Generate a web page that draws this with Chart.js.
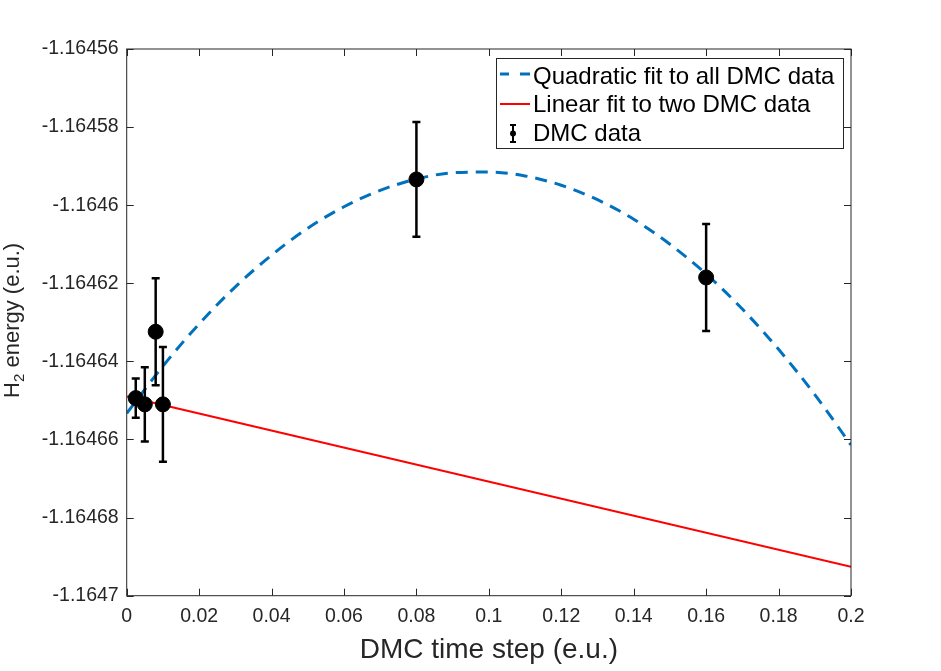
<!DOCTYPE html>
<html>
<head>
<meta charset="utf-8">
<title>H2 energy vs DMC time step</title>
<script src="https://cdn.jsdelivr.net/npm/chart.js@4.4.1/dist/chart.umd.min.js"></script>
<style>
  html, body { margin: 0; padding: 0; background: #fff; }
  #wrap { width: 941px; height: 671px; }
</style>
</head>
<body>
<div id="wrap"><canvas id="dmcChart" width="941" height="671"></canvas></div>
<script>
// DMC data: time step, energy and half-width of the error bar
const dmcSteps  = [0.0025, 0.005, 0.008, 0.01, 0.08, 0.16];
const dmcEnergy = [-1.1646494, -1.1646510, -1.1646324, -1.1646510, -1.1645934, -1.1646185];
const dmcError  = [0.0000050, 0.0000095, 0.0000137, 0.0000147, 0.0000147, 0.0000137];

// quadratic fit, every 0.01
const fitSteps = [0, 0.01, 0.02, 0.03, 0.04, 0.05, 0.06, 0.07, 0.08, 0.09, 0.10,
                  0.11, 0.12, 0.13, 0.14, 0.15, 0.16, 0.17, 0.18, 0.19, 0.20];
const quadEnergy = [-1.1646533, -1.1646412, -1.1646304, -1.1646209, -1.1646128, -1.1646059,
                    -1.1646004, -1.1645962, -1.1645933, -1.1645917, -1.1645915, -1.1645925,
                    -1.1645949, -1.1645986, -1.1646036, -1.1646100, -1.1646176, -1.1646266,
                    -1.1646369, -1.1646485, -1.1646614];

// linear fit through the two smallest time steps
const linSteps  = [0, 0.2];
const linEnergy = [-1.1646490, -1.1646926];

const xTicks = [0, 0.02, 0.04, 0.06, 0.08, 0.1, 0.12, 0.14, 0.16, 0.18, 0.2];
const yTicks = [-1.1647, -1.16468, -1.16466, -1.16464, -1.16462, -1.1646, -1.16458, -1.16456];

const FONT = '"Liberation Sans", Arial, Helvetica, sans-serif';
const INK = '#262626';
const BLUE = '#0072BD';
const RED = '#FF0000';

const toPoints = (xs, ys) => xs.map((x, i) => ({ x: x, y: ys[i] }));

// error bars, box, inward ticks, legend and axis titles in MATLAB style
const matlabLook = {
    id: 'matlabLook',
    afterDatasetsDraw(chart) {
        const { ctx, chartArea: a, scales: { x, y } } = chart;

        // error bars
        ctx.save();
        ctx.strokeStyle = '#000';
        ctx.lineWidth = 2.5;
        dmcSteps.forEach((s, i) => {
            const px = x.getPixelForValue(s);
            const top = y.getPixelForValue(dmcEnergy[i] + dmcError[i]);
            const bot = y.getPixelForValue(dmcEnergy[i] - dmcError[i]);
            ctx.beginPath();
            ctx.moveTo(px, top); ctx.lineTo(px, bot);
            ctx.moveTo(px - 4, top); ctx.lineTo(px + 4, top);
            ctx.moveTo(px - 4, bot); ctx.lineTo(px + 4, bot);
            ctx.stroke();
        });
        ctx.restore();

        // box and ticks pointing inward
        ctx.save();
        ctx.strokeStyle = INK;
        ctx.lineWidth = 1;
        ctx.strokeRect(a.left, a.top, a.right - a.left, a.bottom - a.top);
        const tl = 7;
        ctx.beginPath();
        xTicks.forEach(v => {
            const px = Math.round(x.getPixelForValue(v)) + 0.5;
            ctx.moveTo(px, a.bottom); ctx.lineTo(px, a.bottom - tl);
            ctx.moveTo(px, a.top); ctx.lineTo(px, a.top + tl);
        });
        yTicks.forEach(v => {
            const py = Math.round(y.getPixelForValue(v)) + 0.5;
            ctx.moveTo(a.left, py); ctx.lineTo(a.left + tl, py);
            ctx.moveTo(a.right, py); ctx.lineTo(a.right - tl, py);
        });
        ctx.stroke();
        ctx.restore();

        // legend
        const lx = 496, ly = 58, lw = 347, lh = 90;
        const rows = [83.5, 112, 140.5];
        ctx.save();
        ctx.fillStyle = '#fff';
        ctx.fillRect(lx, ly, lw, lh);
        ctx.strokeStyle = INK;
        ctx.lineWidth = 1;
        ctx.strokeRect(lx + 0.5, ly + 0.5, lw, lh);

        ctx.lineWidth = 3;
        ctx.strokeStyle = BLUE;
        ctx.beginPath();
        ctx.moveTo(500, 74); ctx.lineTo(509, 74);
        ctx.moveTo(520, 74); ctx.lineTo(530, 74);
        ctx.stroke();

        ctx.lineWidth = 2;
        ctx.strokeStyle = RED;
        ctx.beginPath();
        ctx.moveTo(500, 104); ctx.lineTo(530, 104);
        ctx.stroke();

        ctx.lineWidth = 2;
        ctx.strokeStyle = '#000';
        ctx.fillStyle = '#000';
        ctx.beginPath();
        ctx.moveTo(513, 125); ctx.lineTo(513, 142);
        ctx.moveTo(510, 125); ctx.lineTo(516, 125);
        ctx.moveTo(510, 142); ctx.lineTo(516, 142);
        ctx.stroke();
        ctx.beginPath();
        ctx.arc(513, 133.5, 3, 0, Math.PI * 2);
        ctx.fill();

        ctx.font = '24px ' + FONT;
        ctx.textAlign = 'left';
        ctx.textBaseline = 'alphabetic';
        chart.data.datasets.forEach((ds, i) => {
            ctx.fillText(ds.label, 533, rows[i]);
        });
        ctx.restore();

        // axis titles
        ctx.save();
        ctx.fillStyle = INK;
        ctx.font = '28px ' + FONT;
        ctx.textAlign = 'center';
        ctx.textBaseline = 'alphabetic';
        ctx.fillText('DMC time step (e.u.)', (a.left + a.right) / 2, 658);

        ctx.translate(19, (a.top + a.bottom) / 2 - 2);
        ctx.rotate(-Math.PI / 2);
        ctx.font = '22px ' + FONT;
        const h = 'H', two = '2', rest = ' energy (e.u.)';
        const wH = ctx.measureText(h).width;
        const wRest = ctx.measureText(rest).width;
        ctx.font = '15px ' + FONT;
        const w2 = ctx.measureText(two).width;
        const total = wH + w2 + wRest;
        let cx = -total / 2;
        ctx.textAlign = 'left';
        ctx.font = '22px ' + FONT;
        ctx.fillText(h, cx, 0);
        cx += wH;
        ctx.font = '15px ' + FONT;
        ctx.fillText(two, cx, 5);
        cx += w2;
        ctx.font = '22px ' + FONT;
        ctx.fillText(rest, cx, 0);
        ctx.restore();
    }
};

const ctx = document.getElementById('dmcChart').getContext('2d');
new Chart(ctx, {
    type: 'scatter',
    data: {
        datasets: [
            {
                label: 'Quadratic fit to all DMC data',
                type: 'line',
                data: toPoints(fitSteps, quadEnergy),
                borderColor: BLUE,
                borderWidth: 3,
                borderDash: [12, 8],
                pointRadius: 0,
                cubicInterpolationMode: 'monotone',
                fill: false,
                order: 3,
            },
            {
                label: 'Linear fit to two DMC data',
                type: 'line',
                data: toPoints(linSteps, linEnergy),
                borderColor: RED,
                borderWidth: 2,
                pointRadius: 0,
                fill: false,
                order: 2,
            },
            {
                label: 'DMC data',
                data: toPoints(dmcSteps, dmcEnergy),
                backgroundColor: '#000',
                borderColor: '#000',
                pointRadius: 7.5,
                order: 1,
            },
        ],
    },
    options: {
        responsive: false,
        animation: false,
        devicePixelRatio: 1,
        events: [],
        layout: { padding: { left: 0, top: 49, right: 90, bottom: 0 } },
        plugins: {
            legend: { display: false },
            tooltip: { enabled: false },
        },
        scales: {
            x: {
                type: 'linear',
                min: 0,
                max: 0.2,
                afterFit: s => { s.height = 75.3; },
                afterBuildTicks: s => { s.ticks = xTicks.map(v => ({ value: v })); },
                grid: { display: false, drawTicks: false },
                border: { display: false },
                ticks: {
                    font: { family: FONT, size: 19.5 },
                    color: INK,
                    padding: 9,
                    maxRotation: 0,
                    autoSkip: false,
                    callback: v => String(Number(v.toFixed(2))),
                },
            },
            y: {
                type: 'linear',
                min: -1.1647,
                max: -1.16456,
                afterFit: s => { s.width = 126.7; },
                afterBuildTicks: s => { s.ticks = yTicks.map(v => ({ value: v })); },
                grid: { display: false, drawTicks: false },
                border: { display: false },
                ticks: {
                    font: { family: FONT, size: 19.5 },
                    color: INK,
                    padding: 8,
                    autoSkip: false,
                    callback: v => String(Number(v.toFixed(5))),
                },
            },
        },
    },
    plugins: [matlabLook],
});
</script>
</body>
</html>
